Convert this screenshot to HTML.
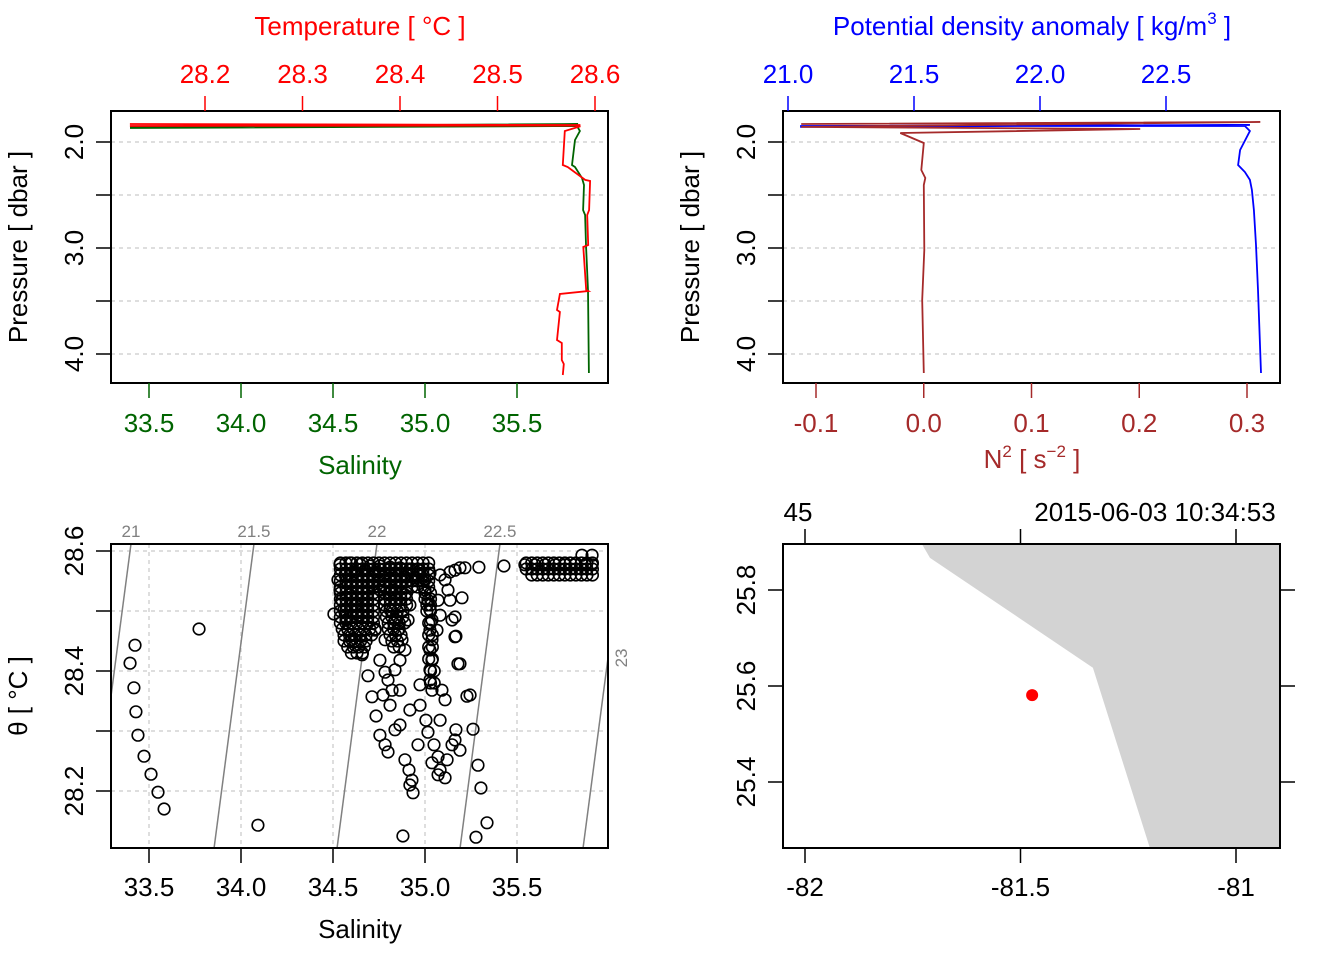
<!DOCTYPE html>
<html><head><meta charset="utf-8"><style>
html,body{margin:0;padding:0;background:#fff}
svg{display:block;font-family:"Liberation Sans",Arial,sans-serif}
</style></head><body>
<svg id="s" width="1344" height="960" viewBox="0 0 1344 960" xmlns="http://www.w3.org/2000/svg"></svg>
<script>
// ---- data ----
const pTicks=[2.0,2.5,3.0,3.5,4.0];
const pLabels=["2.0","3.0","4.0"];
const tempTicks=[28.2,28.3,28.4,28.5,28.6];
const salTicks=[33.5,34.0,34.5,35.0,35.5];
const sigTicks=[21.0,21.5,22.0,22.5];
const n2Ticks=[-0.1,0.0,0.1,0.2,0.3];
const thetaTicks=[28.2,28.3,28.4,28.5,28.6];
const isoLevels=[21,21.5,22,22.5,23];
const tempP=[1.830,1.840,1.849,1.845,1.852,1.896,2.217,2.236,2.358,2.368,2.642,2.689,2.972,2.991,3.396,3.406,3.434,3.585,3.604,3.868,3.896,4.057,4.094,4.198];
const tempT=[28.123,28.585,28.123,28.579,28.585,28.569,28.567,28.572,28.590,28.595,28.594,28.592,28.593,28.588,28.591,28.593,28.564,28.561,28.564,28.561,28.566,28.566,28.568,28.567];
const salP=[1.858,1.830,1.868,1.849,1.896,1.981,2.217,2.236,2.340,2.406,2.642,2.689,2.972,3.396,4.179];
const salS=[33.397,35.832,33.397,35.826,35.842,35.815,35.799,35.815,35.853,35.864,35.859,35.870,35.875,35.886,35.891];
const sigP=[1.858,1.840,1.849,1.849,1.896,2.075,2.217,2.283,2.358,2.453,2.642,2.972,3.396,4.179];
const sigV=[21.048,22.833,21.048,22.813,22.833,22.794,22.786,22.813,22.833,22.841,22.849,22.857,22.865,22.877];
const n2P=[1.830,1.811,1.858,1.877,1.915,2.009,2.264,2.340,2.406,3.019,3.491,4.179];
const n2V=[-0.1137,0.3123,-0.1137,0.2009,-0.0218,0,-0.0023,0.0014,0,0.0005,-0.0014,0];
const tsS=[33.424,33.397,33.418,33.429,33.440,33.473,33.511,33.549,33.582,33.772,34.092,34.880,35.277,35.337,35.304,35.288,35.261,35.228,35.190,35.168,35.163,35.217,35.293,35.429,34.505,
34.538,34.592,34.647,34.701,34.755,34.810,34.864,34.918,34.973,35.027,34.565,34.620,34.674,34.728,34.783,34.837,34.891,34.946,35.000,35.082,35.109,35.136,35.163,35.190,
34.527,34.538,34.549,34.560,34.571,34.582,34.603,34.620,34.592,34.620,34.636,
34.712,34.745,34.783,34.810,34.837,34.853,34.875,34.891,34.864,34.837,34.799,34.755,34.821,34.891,34.918,34.908,34.783,34.728,34.755,34.783,34.864,34.821,
35.000,35.016,35.027,35.038,35.027,35.038,35.027,35.038,35.027,35.027,35.038,35.071,35.082,35.065,35.125,35.136,35.147,35.163,35.179,
34.658,34.690,34.712,34.734,34.755,34.783,34.799,34.772,34.810,34.837,34.864,34.891,34.918,34.935,34.929,34.913,34.973,34.973,35.005,35.016,35.049,35.071,35.082,35.109,35.120,35.147,35.163,35.190,35.168,35.092,35.109,35.082,34.918,34.962,35.038,35.071,35.201,35.245,
34.54,34.57,34.60,34.63,34.66,34.69,34.72,34.54,34.57,34.60,34.63,34.66,34.69,34.72,34.54,34.57,34.60,34.63,34.66,34.69,34.72,34.54,34.57,34.60,34.63,34.66,34.69,34.72,34.54,34.57,34.60,34.63,34.66,34.69,34.72,
34.54,34.57,34.60,34.63,34.66,34.69,34.72,34.54,34.57,34.60,34.63,34.66,34.69,34.72,34.54,34.57,34.60,34.63,34.66,34.69,34.72,34.54,34.57,34.60,34.63,34.66,34.69,34.72,34.54,34.57,34.60,34.63,34.66,34.69,34.72,
34.54,34.57,34.60,34.63,34.66,34.69,34.72,34.55,34.58,34.61,34.64,34.67,34.70,34.73,34.56,34.59,34.62,34.65,34.68,34.71,34.56,34.59,34.62,34.65,34.68,34.58,34.61,34.64,34.67,34.60,34.63,34.66,
34.75,34.78,34.81,34.84,34.87,34.90,34.93,34.96,34.99,35.02,34.75,34.78,34.81,34.84,34.87,34.90,34.93,34.96,34.99,35.02,34.75,34.78,34.81,34.84,34.87,34.90,34.93,34.96,34.99,35.02,34.75,34.78,34.81,34.84,34.87,34.90,34.93,34.96,34.99,35.02,34.75,34.78,34.81,34.84,34.87,34.90,34.93,34.96,34.99,35.02,
34.78,34.81,34.84,34.87,34.90,34.78,34.81,34.84,34.87,34.90,34.78,34.81,34.84,34.87,34.90,34.79,34.82,34.85,34.88,34.79,34.82,34.85,34.88,34.80,34.83,34.86,34.89,34.80,34.83,34.86,34.81,34.84,34.87,34.82,34.85,34.83,34.86,
35.00,35.03,35.00,35.03,35.01,35.03,35.01,35.03,35.02,35.03,35.02,35.04,35.02,35.04,35.02,35.04,35.03,35.05,35.03,35.05,
35.55,35.58,35.61,35.64,35.67,35.70,35.73,35.76,35.79,35.82,35.85,35.88,35.91,35.55,35.58,35.61,35.64,35.67,35.70,35.73,35.76,35.79,35.82,35.85,35.88,35.91,35.58,35.61,35.64,35.67,35.70,35.73,35.76,35.79,35.82,35.85,35.88,35.91,
35.543,35.598,35.652,35.707,35.761,35.815,35.870,35.908,35.853,35.908];
const tsT=[28.443,28.413,28.372,28.332,28.293,28.258,28.228,28.198,28.170,28.470,28.143,28.125,28.123,28.147,28.205,28.243,28.303,28.358,28.412,28.458,28.490,28.572,28.573,28.575,28.495,
28.577,28.580,28.578,28.575,28.575,28.573,28.572,28.570,28.567,28.563,28.560,28.565,28.568,28.565,28.563,28.560,28.557,28.555,28.552,28.560,28.552,28.565,28.568,28.572,
28.552,28.535,28.518,28.502,28.485,28.468,28.452,28.443,28.527,28.510,28.493,
28.543,28.527,28.518,28.502,28.485,28.468,28.452,28.435,28.418,28.402,28.385,28.535,28.535,28.527,28.510,28.485,28.452,28.468,28.418,28.398,28.368,28.368,
28.535,28.518,28.502,28.485,28.468,28.452,28.435,28.418,28.402,28.385,28.368,28.518,28.493,28.468,28.535,28.518,28.485,28.457,28.412,
28.427,28.392,28.357,28.325,28.293,28.277,28.265,28.360,28.343,28.302,28.310,28.252,28.210,28.197,28.218,28.235,28.377,28.343,28.318,28.298,28.277,28.257,28.235,28.222,28.252,28.277,28.285,28.268,28.302,28.368,28.352,28.318,28.335,28.277,28.247,28.227,28.522,28.360,
28.58,28.58,28.58,28.58,28.58,28.58,28.58,28.57,28.57,28.57,28.57,28.57,28.57,28.57,28.56,28.56,28.56,28.56,28.56,28.56,28.56,28.55,28.55,28.55,28.55,28.55,28.55,28.55,28.54,28.54,28.54,28.54,28.54,28.54,28.54,
28.53,28.53,28.53,28.53,28.53,28.53,28.53,28.52,28.52,28.52,28.52,28.52,28.52,28.52,28.51,28.51,28.51,28.51,28.51,28.51,28.51,28.50,28.50,28.50,28.50,28.50,28.50,28.50,28.49,28.49,28.49,28.49,28.49,28.49,28.49,
28.48,28.48,28.48,28.48,28.48,28.48,28.48,28.47,28.47,28.47,28.47,28.47,28.47,28.47,28.46,28.46,28.46,28.46,28.46,28.46,28.45,28.45,28.45,28.45,28.45,28.44,28.44,28.44,28.44,28.43,28.43,28.43,
28.58,28.58,28.58,28.58,28.58,28.58,28.58,28.58,28.58,28.58,28.57,28.57,28.57,28.57,28.57,28.57,28.57,28.57,28.57,28.57,28.56,28.56,28.56,28.56,28.56,28.56,28.56,28.56,28.56,28.56,28.55,28.55,28.55,28.55,28.55,28.55,28.55,28.55,28.55,28.55,28.54,28.54,28.54,28.54,28.54,28.54,28.54,28.54,28.54,28.54,
28.53,28.53,28.53,28.53,28.53,28.52,28.52,28.52,28.52,28.52,28.51,28.51,28.51,28.51,28.51,28.50,28.50,28.50,28.50,28.49,28.49,28.49,28.49,28.48,28.48,28.48,28.48,28.47,28.47,28.47,28.46,28.46,28.46,28.45,28.45,28.44,28.44,
28.53,28.53,28.52,28.52,28.51,28.51,28.50,28.50,28.48,28.48,28.46,28.46,28.44,28.44,28.42,28.42,28.40,28.40,28.38,28.38,
28.58,28.58,28.58,28.58,28.58,28.58,28.58,28.58,28.58,28.58,28.58,28.58,28.58,28.57,28.57,28.57,28.57,28.57,28.57,28.57,28.57,28.57,28.57,28.57,28.57,28.57,28.56,28.56,28.56,28.56,28.56,28.56,28.56,28.56,28.56,28.56,28.56,28.56,
28.577,28.577,28.577,28.577,28.577,28.577,28.577,28.577,28.593,28.593];
const coastLon=[-81.729,-81.710,-81.332,-81.200];
const coastLat=[25.896,25.867,25.638,25.263];
const stationLon=[-81.473];
const stationLat=[25.581];
const lonTicks=[-82,-81.5,-81];
const lonLabels=["-82","-81.5","-81"];
const latTicks=[25.4,25.6,25.8];
// ---- helpers ----
const S=document.getElementById('s');const NS="http://www.w3.org/2000/svg";
const FS=26;
function el(t,a,p){const e=document.createElementNS(NS,t);for(const k in a)e.setAttribute(k,a[k]);(p||S).appendChild(e);return e;}
function txt(x,y,s,a,p){const e=el('text',Object.assign({x:x,y:y,'text-anchor':'middle','font-size':FS},a||{}),p);e.textContent=s;return e;}
function lin(d0,d1,r0,r1){return v=>r0+(v-d0)*(r1-r0)/(d1-d0);}
const pY=lin(2.0,3.0,142,248);
const tX=lin(28.2,28.6,205,595);
const sX=lin(33.5,35.5,149,517);
const sigX=lin(21.0,22.5,788,1166);
const n2X=lin(-0.1,0.3,816,1247);
const thY=lin(28.2,28.6,791,551);
const lonX=lin(-82,-81,805,1236);
const latY=lin(25.4,25.8,782,590);
const RED="#ff0000",GRN="#006400",BLU="#0000ff",BRN="#a52a2a";

function pressureAxis(x0,name){
  const g=el('g',{});
  
  
  pTicks.forEach(p=>{el('line',{x1:x0-15,x2:x0,y1:pY(p),y2:pY(p),stroke:'#000','stroke-width':1.5},g);});
  [2,3,4].forEach((p,i)=>{txt(x0-28,pY(p),pLabels[i],{transform:`rotate(-90 ${x0-28} ${pY(p)})`},g);});
  const lt=txt(x0-84,247,'Pressure [ dbar ]',{transform:`rotate(-90 ${x0-84} 247)`});
  
}
function hgrid(x0,x1){pTicks.forEach(p=>el('line',{x1:x0,x2:x1,y1:pY(p),y2:pY(p),stroke:'#d3d3d3','stroke-width':1.5,'stroke-dasharray':'4,4'}));}
function path(xs,ys,color,name){const d=xs.map((v,i)=>(i?'L':'M')+v.toFixed(1)+','+ys[i].toFixed(1)).join(' ');const e=el('path',{d:d,fill:'none',stroke:color,'stroke-width':1.8});}
function box(x0,y0,x1,y1,name){const e=el('rect',{x:x0,y:y0,width:x1-x0,height:y1-y0,fill:'none',stroke:'#000','stroke-width':2});}

// ---- panel 1 ----
hgrid(111,608);
path(salS.map(sX),salP.map(pY),GRN,'salinity-profile');
path(tempT.map(tX),tempP.map(pY),RED,'temperature-profile');
box(111,111,608,383,'ts-profile-frame');
pressureAxis(111,'pressure-axis-left');
tempTicks.forEach(t=>{el('line',{x1:tX(t),x2:tX(t),y1:96,y2:111,stroke:RED,'stroke-width':1.5});txt(tX(t),83,t.toFixed(1),{fill:RED});});
let e=txt(360,35,'Temperature [ °C ]',{fill:RED});
salTicks.forEach(s=>{el('line',{x1:sX(s),x2:sX(s),y1:383,y2:398,stroke:GRN,'stroke-width':1.5});txt(sX(s),432,s.toFixed(1),{fill:GRN});});
e=txt(360,474,'Salinity',{fill:GRN});

// ---- panel 2 ----
hgrid(783,1280);
path(sigV.map(sigX),sigP.map(pY),BLU,'density-profile');
path(n2V.map(n2X),n2P.map(pY),BRN,'n2-profile');
box(783,111,1280,383,'density-profile-frame');
pressureAxis(783,'pressure-axis-right-panel');
sigTicks.forEach(s=>{el('line',{x1:sigX(s),x2:sigX(s),y1:96,y2:111,stroke:BLU,'stroke-width':1.5});txt(sigX(s),83,s.toFixed(1),{fill:BLU});});
e=el('text',{x:1032,y:35,'text-anchor':'middle','font-size':FS,fill:BLU});
e.innerHTML='Potential density anomaly [ kg/m<tspan dy="-11" font-size="17">3</tspan><tspan dy="11"> ]</tspan>';

n2Ticks.forEach(s=>{el('line',{x1:n2X(s),x2:n2X(s),y1:383,y2:398,stroke:BRN,'stroke-width':1.5});txt(n2X(s),432,s.toFixed(1),{fill:BRN});});
e=el('text',{x:1032,y:468,'text-anchor':'middle','font-size':FS,fill:BRN});
e.innerHTML='N<tspan dy="-11" font-size="17">2</tspan><tspan dy="11"> [ s</tspan><tspan dy="-11" font-size="17">−2</tspan><tspan dy="11"> ]</tspan>';


// ---- panel 3: TS diagram ----
const cp=el('clipPath',{id:'c3'});el('rect',{x:111,y:544,width:497,height:304},cp);
salTicks.forEach(s=>el('line',{x1:sX(s),x2:sX(s),y1:544,y2:848,stroke:'#d3d3d3','stroke-width':1.5,'stroke-dasharray':'4,4'}));
thetaTicks.forEach(t=>el('line',{x1:111,x2:608,y1:thY(t),y2:thY(t),stroke:'#d3d3d3','stroke-width':1.5,'stroke-dasharray':'4,4'}));
const sigA=0.748,sigB=0.32,S0=33.402,T0=28.612;
function isoS(sig,T){return S0+((sig-21)+sigB*(T-T0))/sigA;}
const Ttop=28.612,Tbot=28.612-304/600;
isoLevels.forEach(l=>{
  const x1=sX(isoS(l,Ttop)),x2=sX(isoS(l,Tbot));
  const ln=el('line',{x1:x1,y1:544,x2:x2,y2:848,stroke:'#808080','stroke-width':1.5,'clip-path':'url(#c3)'});
  
  if(x1<600){txt(x1,537,String(l),{fill:'#808080','font-size':17});}
  else{const yy=544+(x1-608)/(x1-x2)*304;txt(627,yy,String(l),{fill:'#808080','font-size':17,transform:`rotate(-90 627 ${yy})`});}
});
const gpts=el('g',{'clip-path':'url(#c3)'});

tsS.forEach((s,i)=>{el('circle',{cx:sX(s),cy:thY(tsT[i]),r:5.8,fill:'none',stroke:'#000','stroke-width':1.6},gpts);});
box(111,544,608,848,'ts-diagram-frame');
salTicks.forEach(s=>{el('line',{x1:sX(s),x2:sX(s),y1:848,y2:863,stroke:'#000','stroke-width':1.5});txt(sX(s),896,s.toFixed(1));});
thetaTicks.forEach((t,i)=>{el('line',{x1:96,x2:111,y1:thY(t),y2:thY(t),stroke:'#000','stroke-width':1.5});if(i%2==0)txt(83,thY(t),t.toFixed(1),{transform:`rotate(-90 83 ${thY(t)})`});});
e=txt(360,938,'Salinity');
e=txt(27,696,'θ [ °C ]',{transform:'rotate(-90 27 696)'});

// ---- panel 4: map ----
const land=[...coastLon.map((l,i)=>lonX(l)+','+latY(coastLat[i])),'1280,848','1280,544'].join(' ');
e=el('polygon',{points:land,fill:'#d3d3d3'});
stationLon.forEach((l,i)=>{const c=el('circle',{cx:lonX(l),cy:latY(stationLat[i]),r:6,fill:RED});});
box(783,544,1280,848,'map-frame');
lonTicks.forEach((l,i)=>{el('line',{x1:lonX(l),x2:lonX(l),y1:848,y2:863,stroke:'#000','stroke-width':1.5});el('line',{x1:lonX(l),x2:lonX(l),y1:529,y2:544,stroke:'#000','stroke-width':1.5});txt(lonX(l),896,lonLabels[i]);});
latTicks.forEach(t=>{el('line',{x1:768,x2:783,y1:latY(t),y2:latY(t),stroke:'#000','stroke-width':1.5});el('line',{x1:1280,x2:1295,y1:latY(t),y2:latY(t),stroke:'#000','stroke-width':1.5});txt(755,latY(t),t.toFixed(1),{transform:`rotate(-90 755 ${latY(t)})`});});
txt(798,521,'45');
e=txt(1155,521,'2015-06-03 10:34:53');
</script>
</body></html>
